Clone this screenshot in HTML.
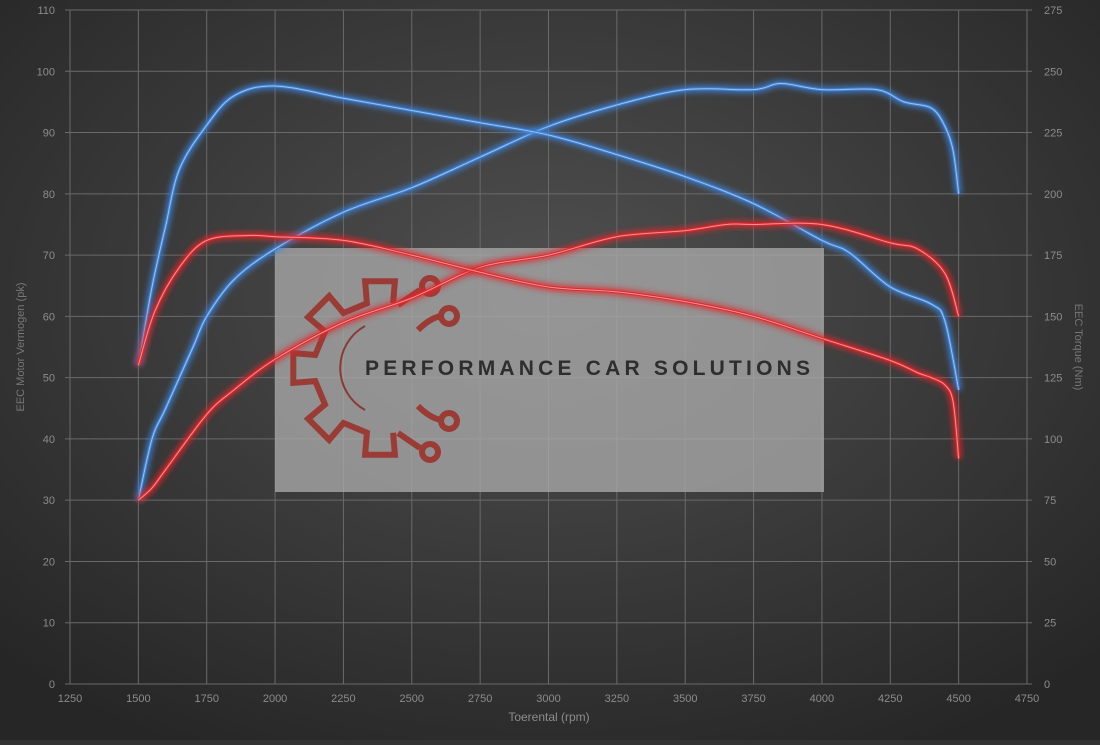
<!DOCTYPE html>
<html><head><meta charset="utf-8"><style>
html,body{margin:0;padding:0;background:#333}
svg text{font-family:"Liberation Sans",sans-serif}
</style></head><body>
<svg id="chart" width="1100" height="740" xmlns="http://www.w3.org/2000/svg">
<defs>
<radialGradient id="bg" cx="50%" cy="40%" r="70%">
<stop offset="0" stop-color="#505050"/><stop offset="1" stop-color="#262626"/>
</radialGradient>
<filter id="glow" x="-10%" y="-10%" width="120%" height="120%"><feGaussianBlur stdDeviation="3"/></filter>
</defs>
<rect width="1100" height="740" fill="url(#bg)"/>
<g id="grid"></g>
<g id="wm">
<rect x="275" y="248" width="549" height="244" fill="#a9a9a9" fill-opacity="0.78"/>
<path id="gear" fill="none" stroke="#9b3b36" stroke-width="6" stroke-linejoin="miter"/>
<path d="M 365 326 A 48 48 0 0 0 365 410" fill="none" stroke="#8a3a36" stroke-width="2"/>
<g fill="none" stroke="#9b3b36" stroke-width="6">
<path d="M 398 305 L 420 290"/><circle cx="430" cy="286" r="8"/>
<path d="M 418 330 Q 430 318 441 316"/><circle cx="449" cy="316" r="8"/>
<path d="M 418 406 Q 430 418 441 420"/><circle cx="449" cy="421" r="8"/>
<path d="M 398 433 L 420 448"/><circle cx="430" cy="452" r="8"/>
</g>
<text x="365" y="375" font-size="21" font-weight="bold" letter-spacing="4.2" fill="#2e2e2e">PERFORMANCE CAR SOLUTIONS</text>
</g>
<g id="series"></g>
<g id="axes"></g>
<text x="549" y="721" font-size="12" fill="#8c8c8c" text-anchor="middle">Toerental (rpm)</text>
<text transform="translate(24,347) rotate(-90)" font-size="11" fill="#777" text-anchor="middle">EEC Motor Vermogen (pk)</text>
<text transform="translate(1075,347) rotate(90)" font-size="11" fill="#777" text-anchor="middle">EEC Torque (Nm)</text>
</svg>
<script>
const xTicks=[1250,1500,1750,2000,2250,2500,2750,3000,3250,3500,3750,4000,4250,4500,4750];
const yLeftTicks=[0,10,20,30,40,50,60,70,80,90,100,110];
const yRightTicks=[0,25,50,75,100,125,150,175,200,225,250,275];
const bluePowerRpm=[1500,1550,1600,1700,1750,1850,2000,2250,2500,2750,3000,3250,3500,3750,3850,4000,4200,4300,4400,4450,4480,4500];
const bluePower=[30,40,45,55,60,66,71,77,81,86,91,94.5,97,97,98,97,97,95,94,91,87,80];
const blueTorqueRpm=[1500,1550,1600,1650,1750,1850,2000,2250,2500,2750,3000,3250,3500,3750,4000,4100,4250,4400,4450,4500];
const blueTorque=[130,162,187,210,228,240,244,239,234,229,224,216,207,196,181,176,162,155,148,120];
const redPowerRpm=[1500,1550,1600,1750,1850,2000,2250,2500,2750,3000,3250,3500,3650,3750,4000,4250,4350,4450,4500];
const redPower=[30,32,35,44,48,53,59,63,68,70,73,74,75,75,75,72,71,67,60];
const redTorqueRpm=[1500,1560,1650,1750,1900,2000,2250,2500,2750,3000,3250,3500,3750,4000,4250,4350,4400,4450,4480,4500];
const redTorque=[130,152,170,181,183,182.5,181,175,168,162,160,156,150,141,132,127,125,122,115,92];

const NS="http://www.w3.org/2000/svg";
const X=v=>70+(v-1250)/3500*957;
const YL=v=>684-v/110*674;
const YR=v=>684-v/275*674;
function mk(tag,attrs,parent){const e=document.createElementNS(NS,tag);for(const k in attrs)e.setAttribute(k,attrs[k]);parent.appendChild(e);return e;}
const grid=document.getElementById('grid'),axes=document.getElementById('axes'),ser=document.getElementById('series');
xTicks.forEach(t=>{
 const l=mk('line',{x1:X(t),x2:X(t),y1:10,y2:684,stroke:'#6a6a6a','stroke-width':1},grid);
 
 
 const tx=mk('text',{x:X(t),y:702,'font-size':11,fill:'#8c8c8c','text-anchor':'middle'},axes);
 tx.textContent=t;
 
 
});
yLeftTicks.forEach(t=>{
 const l=mk('line',{x1:65,x2:1032,y1:YL(t),y2:YL(t),stroke:'#6a6a6a','stroke-width':1},grid);
 
 
 const tx=mk('text',{x:55,y:YL(t)+4,'font-size':11,fill:'#8c8c8c','text-anchor':'end'},axes);
 tx.textContent=t;
 
 
});
yRightTicks.forEach(t=>{
 const tx=mk('text',{x:1044,y:YR(t)+4,'font-size':11,fill:'#8c8c8c','text-anchor':'start'},axes);
 tx.textContent=t;
 
 
});
function smooth(pts){let d=`M${pts[0][0]},${pts[0][1]}`;for(let i=0;i<pts.length-1;i++){const p0=pts[i-1]||pts[i],p1=pts[i],p2=pts[i+1],p3=pts[i+2]||p2;
 d+=` C${p1[0]+(p2[0]-p0[0])/6},${p1[1]+(p2[1]-p0[1])/6} ${p2[0]-(p3[0]-p1[0])/6},${p2[1]-(p3[1]-p1[1])/6} ${p2[0]},${p2[1]}`;}return d;}
function series(xs,ys,Y,color,name){
 const pts=xs.map((x,i)=>[X(x),Y(ys[i])]);const d=smooth(pts);
 const g=mk('g',{},ser);
 
 
 mk('path',{d:d,fill:'none',stroke:color,'stroke-width':7,'stroke-opacity':0.8,filter:'url(#glow)'},g);
 mk('path',{d:d,fill:'none',stroke:color,'stroke-width':3},g);
 mk('path',{d:d,fill:'none',stroke:'#ffffff','stroke-opacity':0.5,'stroke-width':1},g);
}
series(bluePowerRpm,bluePower,YL,'#3d82d8','blue-power-line');
series(blueTorqueRpm,blueTorque,YR,'#3d82d8','blue-torque-line');
series(redPowerRpm,redPower,YL,'#e0282c','red-power-line');
series(redTorqueRpm,redTorque,YR,'#e0282c','red-torque-line');
// gear logo (left half) with 5 teeth
(function(){const cx=380,cy=368,ro=88,ri=66,tw=0.17,tw2=0.2;
 const teeth=[-90,-135,180,135,90];
 const P=(r,deg,off)=>{const a=deg*Math.PI/180+off;return [cx+r*Math.cos(a),cy+r*Math.sin(a)];};
 let pts=[];
 teeth.forEach((t,i)=>{
  const ri2=ri*Math.cos(0);
  if(i===0){pts.push(P(ri,t,tw2+0.12));pts.push(P(ro,t,tw+0.12));}
  else{pts.push(P(ri,t,-tw2*-1));pts.push(P(ro,t,tw));}
  pts.push(P(ro,t,-tw));pts.push(P(ri,t,-tw2));
  if(i===4){pts.push(P(ri,t,-tw2));}
 });
 // order: going counterclockwise (decreasing angle from -90 => -135 ...). Build explicitly instead
 pts=[];
 teeth.forEach((t,i)=>{
  const s=(i===0)?1:1;
  pts.push(P(ri,t,tw2*s));pts.push(P(ro,t,tw*s));pts.push(P(ro,t,-tw*s));pts.push(P(ri,t,-tw*s-0.03));
 });
 // teeth listed with decreasing angle going around left side: -90,-135,-180(=180),-225(=135),-270(=90)
 pts=[];
 [-90,-135,-180,-225,-270].forEach((t,i)=>{
  pts.push(P(ri,t,tw2));pts.push(P(ro,t,tw));pts.push(P(ro,t,-tw));pts.push(P(ri,t,-tw2));
 });
 const d='M'+pts.map(p=>p[0].toFixed(1)+','+p[1].toFixed(1)).join(' L');
 const g=document.getElementById('gear');
 g.setAttribute('d',d);
 
 
})();
</script>
</body></html>
